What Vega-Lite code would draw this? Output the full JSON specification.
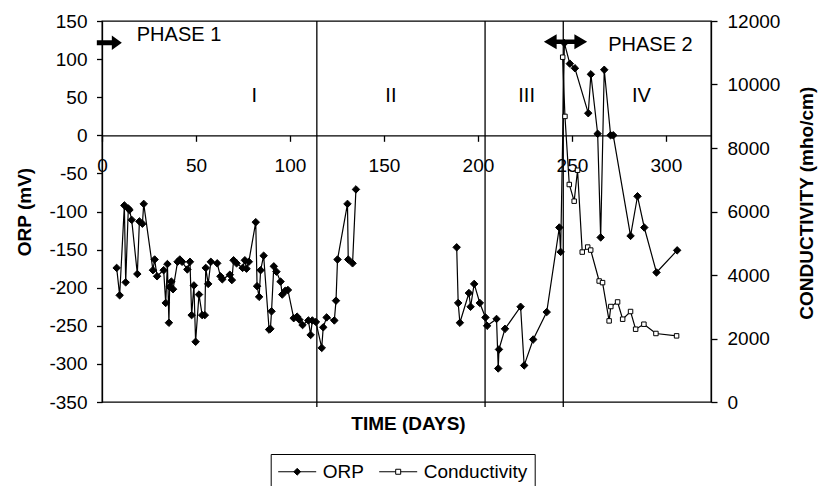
{
  "$schema": "https://vega.github.io/schema/vega-lite/v6.json",
  "width": 609,
  "height": 381,
  "autosize": {"type": "none"},
  "padding": {"left": 102, "top": 21, "right": 108, "bottom": 84},
  "background": "white",
  "config": {
    "font": "Liberation Sans",
    "view": {"stroke": "black", "strokeWidth": 1.3},
    "axis": {
      "labelFont": "Liberation Sans", "titleFont": "Liberation Sans",
      "labelColor": "black", "titleColor": "black", "tickColor": "black", "domainColor": "black",
      "grid": false, "labelFontSize": 19, "titleFontSize": 19, "titleFontWeight": "bold",
      "tickWidth": 1.3, "domainWidth": 1.3
    }
  },
  "datasets": {
    "orp": [
      {"series": "ORP", "seg": 1, "day": 7.8, "orp": -174},
      {"series": "ORP", "seg": 1, "day": 9.4, "orp": -210},
      {"series": "ORP", "seg": 1, "day": 11.9, "orp": -92},
      {"series": "ORP", "seg": 1, "day": 12.6, "orp": -193},
      {"series": "ORP", "seg": 1, "day": 14, "orp": -96},
      {"series": "ORP", "seg": 1, "day": 14.6, "orp": -98},
      {"series": "ORP", "seg": 1, "day": 15.8, "orp": -111},
      {"series": "ORP", "seg": 1, "day": 18.8, "orp": -182},
      {"series": "ORP", "seg": 1, "day": 19.9, "orp": -113},
      {"series": "ORP", "seg": 1, "day": 21.5, "orp": -116},
      {"series": "ORP", "seg": 1, "day": 22.2, "orp": -90},
      {"series": "ORP", "seg": 1, "day": 27.1, "orp": -177},
      {"series": "ORP", "seg": 1, "day": 28, "orp": -163},
      {"series": "ORP", "seg": 1, "day": 29.3, "orp": -185},
      {"series": "ORP", "seg": 1, "day": 32.8, "orp": -177},
      {"series": "ORP", "seg": 1, "day": 33.9, "orp": -220},
      {"series": "ORP", "seg": 1, "day": 34.8, "orp": -169},
      {"series": "ORP", "seg": 1, "day": 35.6, "orp": -246},
      {"series": "ORP", "seg": 1, "day": 36, "orp": -199},
      {"series": "ORP", "seg": 1, "day": 36.9, "orp": -192},
      {"series": "ORP", "seg": 1, "day": 37.8, "orp": -202},
      {"series": "ORP", "seg": 1, "day": 40.2, "orp": -166},
      {"series": "ORP", "seg": 1, "day": 41.4, "orp": -163},
      {"series": "ORP", "seg": 1, "day": 42.6, "orp": -166},
      {"series": "ORP", "seg": 1, "day": 45.4, "orp": -176},
      {"series": "ORP", "seg": 1, "day": 46.8, "orp": -166},
      {"series": "ORP", "seg": 1, "day": 47.7, "orp": -236},
      {"series": "ORP", "seg": 1, "day": 48.9, "orp": -197},
      {"series": "ORP", "seg": 1, "day": 49.8, "orp": -271},
      {"series": "ORP", "seg": 1, "day": 51.6, "orp": -209},
      {"series": "ORP", "seg": 1, "day": 53.3, "orp": -236},
      {"series": "ORP", "seg": 1, "day": 54.7, "orp": -236},
      {"series": "ORP", "seg": 1, "day": 55.2, "orp": -174},
      {"series": "ORP", "seg": 1, "day": 56.5, "orp": -195},
      {"series": "ORP", "seg": 1, "day": 57.9, "orp": -166},
      {"series": "ORP", "seg": 1, "day": 61.3, "orp": -168},
      {"series": "ORP", "seg": 1, "day": 63, "orp": -185},
      {"series": "ORP", "seg": 1, "day": 64, "orp": -189},
      {"series": "ORP", "seg": 1, "day": 68, "orp": -183},
      {"series": "ORP", "seg": 1, "day": 69.1, "orp": -190},
      {"series": "ORP", "seg": 1, "day": 70, "orp": -164},
      {"series": "ORP", "seg": 1, "day": 71.6, "orp": -168},
      {"series": "ORP", "seg": 1, "day": 74.8, "orp": -174},
      {"series": "ORP", "seg": 1, "day": 76, "orp": -164},
      {"series": "ORP", "seg": 1, "day": 76.9, "orp": -175},
      {"series": "ORP", "seg": 1, "day": 78.1, "orp": -166},
      {"series": "ORP", "seg": 1, "day": 81.8, "orp": -114},
      {"series": "ORP", "seg": 1, "day": 82.5, "orp": -198},
      {"series": "ORP", "seg": 1, "day": 83.6, "orp": -212},
      {"series": "ORP", "seg": 1, "day": 84.4, "orp": -177},
      {"series": "ORP", "seg": 1, "day": 86, "orp": -158},
      {"series": "ORP", "seg": 1, "day": 88.9, "orp": -255},
      {"series": "ORP", "seg": 1, "day": 89.6, "orp": -254},
      {"series": "ORP", "seg": 1, "day": 90.2, "orp": -231},
      {"series": "ORP", "seg": 1, "day": 91.4, "orp": -172},
      {"series": "ORP", "seg": 1, "day": 92.8, "orp": -179},
      {"series": "ORP", "seg": 1, "day": 95, "orp": -192},
      {"series": "ORP", "seg": 1, "day": 95.9, "orp": -209},
      {"series": "ORP", "seg": 1, "day": 97.5, "orp": -204},
      {"series": "ORP", "seg": 1, "day": 98.9, "orp": -203},
      {"series": "ORP", "seg": 1, "day": 102, "orp": -240},
      {"series": "ORP", "seg": 1, "day": 103.8, "orp": -238},
      {"series": "ORP", "seg": 1, "day": 105, "orp": -242},
      {"series": "ORP", "seg": 1, "day": 106.7, "orp": -249},
      {"series": "ORP", "seg": 1, "day": 109.8, "orp": -243},
      {"series": "ORP", "seg": 1, "day": 111, "orp": -262},
      {"series": "ORP", "seg": 1, "day": 111.9, "orp": -243},
      {"series": "ORP", "seg": 1, "day": 113.8, "orp": -245},
      {"series": "ORP", "seg": 1, "day": 116.9, "orp": -279},
      {"series": "ORP", "seg": 1, "day": 117.7, "orp": -252},
      {"series": "ORP", "seg": 1, "day": 119.5, "orp": -239},
      {"series": "ORP", "seg": 1, "day": 123.6, "orp": -243},
      {"series": "ORP", "seg": 1, "day": 124.5, "orp": -217},
      {"series": "ORP", "seg": 1, "day": 125.3, "orp": -163},
      {"series": "ORP", "seg": 1, "day": 130.6, "orp": -90},
      {"series": "ORP", "seg": 1, "day": 131, "orp": -163},
      {"series": "ORP", "seg": 1, "day": 133.3, "orp": -168},
      {"series": "ORP", "seg": 1, "day": 135.1, "orp": -71},
      {"series": "ORP", "seg": 2, "day": 188.7, "orp": -147},
      {"series": "ORP", "seg": 2, "day": 189.5, "orp": -220},
      {"series": "ORP", "seg": 2, "day": 190.4, "orp": -246},
      {"series": "ORP", "seg": 2, "day": 195.2, "orp": -207},
      {"series": "ORP", "seg": 2, "day": 196.1, "orp": -225},
      {"series": "ORP", "seg": 2, "day": 198, "orp": -195},
      {"series": "ORP", "seg": 2, "day": 201, "orp": -220},
      {"series": "ORP", "seg": 2, "day": 204, "orp": -239},
      {"series": "ORP", "seg": 2, "day": 204.9, "orp": -250},
      {"series": "ORP", "seg": 2, "day": 209.9, "orp": -241},
      {"series": "ORP", "seg": 2, "day": 210.8, "orp": -306},
      {"series": "ORP", "seg": 2, "day": 211.2, "orp": -281},
      {"series": "ORP", "seg": 2, "day": 214.4, "orp": -254},
      {"series": "ORP", "seg": 2, "day": 222.7, "orp": -225},
      {"series": "ORP", "seg": 2, "day": 224.6, "orp": -302},
      {"series": "ORP", "seg": 2, "day": 229.4, "orp": -268},
      {"series": "ORP", "seg": 2, "day": 236.6, "orp": -232},
      {"series": "ORP", "seg": 2, "day": 243.3, "orp": -121},
      {"series": "ORP", "seg": 2, "day": 244, "orp": -153},
      {"series": "ORP", "seg": 2, "day": 246, "orp": 121},
      {"series": "ORP", "seg": 2, "day": 248.9, "orp": 94},
      {"series": "ORP", "seg": 2, "day": 251.6, "orp": 88},
      {"series": "ORP", "seg": 2, "day": 258.7, "orp": 29},
      {"series": "ORP", "seg": 2, "day": 260.1, "orp": 80},
      {"series": "ORP", "seg": 2, "day": 263.7, "orp": 2},
      {"series": "ORP", "seg": 2, "day": 265.3, "orp": -134},
      {"series": "ORP", "seg": 2, "day": 267.2, "orp": 86},
      {"series": "ORP", "seg": 2, "day": 270.6, "orp": 0},
      {"series": "ORP", "seg": 2, "day": 272, "orp": 0},
      {"series": "ORP", "seg": 2, "day": 281.2, "orp": -132},
      {"series": "ORP", "seg": 2, "day": 284.9, "orp": -80},
      {"series": "ORP", "seg": 2, "day": 288.5, "orp": -121},
      {"series": "ORP", "seg": 2, "day": 295, "orp": -180},
      {"series": "ORP", "seg": 2, "day": 306, "orp": -151}
    ],
    "cond": [
      {"series": "Conductivity", "day": 245.1, "cond": 10860},
      {"series": "Conductivity", "day": 246.3, "cond": 8995},
      {"series": "Conductivity", "day": 248.6, "cond": 6850},
      {"series": "Conductivity", "day": 251.2, "cond": 6325},
      {"series": "Conductivity", "day": 253, "cond": 7300},
      {"series": "Conductivity", "day": 255.5, "cond": 4722},
      {"series": "Conductivity", "day": 258.4, "cond": 4880},
      {"series": "Conductivity", "day": 260, "cond": 4785},
      {"series": "Conductivity", "day": 264.5, "cond": 3811},
      {"series": "Conductivity", "day": 266.3, "cond": 3760},
      {"series": "Conductivity", "day": 269.8, "cond": 2555},
      {"series": "Conductivity", "day": 270.7, "cond": 3007},
      {"series": "Conductivity", "day": 274.3, "cond": 3151},
      {"series": "Conductivity", "day": 277, "cond": 2608},
      {"series": "Conductivity", "day": 281.2, "cond": 2850},
      {"series": "Conductivity", "day": 283.9, "cond": 2293},
      {"series": "Conductivity", "day": 288.3, "cond": 2450},
      {"series": "Conductivity", "day": 294.7, "cond": 2158},
      {"series": "Conductivity", "day": 305.7, "cond": 2083}
    ],
    "dividers": [
      {"day": 114.3, "lo": -356.5, "hi": 150},
      {"day": 203.8, "lo": -356.5, "hi": 150},
      {"day": 245.4, "lo": -356.5, "hi": 150}
    ],
    "phases": [
      {"day": 18.5, "orp": 132, "text": "PHASE 1"},
      {"day": 269.3, "orp": 119, "text": "PHASE 2"}
    ],
    "periods": [
      {"day": 81, "orp": 51, "text": "I"},
      {"day": 153.7, "orp": 51, "text": "II"},
      {"day": 225.9, "orp": 51, "text": "III"},
      {"day": 287, "orp": 51, "text": "IV"}
    ],
    "arrows": [
      {"kind": "start", "day": 3.9, "orp": 121.5},
      {"kind": "both", "day": 246.6, "orp": 122.8}
    ]
  },
  "layer": [
    {
      "layer": [
        {
          "data": {"name": "dividers"},
          "mark": {"type": "rule", "color": "black", "strokeWidth": 1.3},
          "encoding": {
            "x": {"field": "day", "type": "quantitative", "scale": {"domain": [0, 324], "nice": false, "zero": false},
              "axis": {
                "orient": "bottom", "offset": -266.7, "values": [0, 50, 100, 150, 200, 250, 300], "tickCount": 30,
                "title": "TIME (DAYS)", "titleX": 306, "titleY": 287.7, "titleAlign": "center", "titleBaseline": "middle", "titleAngle": 0,
                "tickSize": 6, "labelPadding": 15, "labelFlush": false, "labelOverlap": false,
                "labelExpr": "'' + datum.value"
              }
            },
            "y": {"field": "lo", "type": "quantitative", "scale": {"domain": [-350, 150], "nice": false, "zero": false},
              "axis": {
                "orient": "left", "values": [-350, -300, -250, -200, -150, -100, -50, 0, 50, 100, 150], "tickCount": 30,
                "title": "ORP (mV)", "titleX": -78, "titleY": 190.5, "titleAngle": 270, "titleAlign": "center", "titleBaseline": "middle",
                "tickSize": 5.5, "labelPadding": 9.5, "labelOverlap": false,
                "labelExpr": "'' + datum.value"
              }
            },
            "y2": {"field": "hi"}
          }
        },
        {
          "data": {"name": "orp"},
          "mark": {"type": "line", "color": "black", "strokeWidth": 1.2},
          "encoding": {
            "x": {"field": "day", "type": "quantitative"},
            "y": {"field": "orp", "type": "quantitative"},
            "detail": {"field": "seg"}
          }
        },
        {
          "data": {"name": "orp"},
          "mark": {"type": "point", "shape": "diamond", "stroke": "black", "strokeWidth": 1, "opacity": 1, "size": 56},
          "encoding": {
            "x": {"field": "day", "type": "quantitative"},
            "y": {"field": "orp", "type": "quantitative"},
            "fill": {"field": "series", "type": "nominal",
              "scale": {"domain": ["ORP", "Conductivity"], "range": ["black", "white"]},
              "legend": {
                "orient": "none", "legendX": 168.7, "legendY": 433, "direction": "horizontal", "title": null,
                "strokeColor": "black", "padding": 7, "symbolSize": 400, "labelFontSize": 19, "labelFont": "Liberation Sans",
                "labelColor": "black", "labelOffset": 24, "columnPadding": 12, "symbolStrokeWidth": 1, "symbolStrokeColor": "black", "symbolOpacity": 1,
                "encode": {"symbols": {"update": {
                  "shape": {"signal": "datum.value === 'ORP' ? 'M-1,0H2.8M0.9,-0.34L1.24,0L0.9,0.34L0.56,0Z' : 'M-1,0H0.65M1.15,0H2.8M0.65,-0.25H1.15V0.25H0.65Z'"},
                  "stroke": {"value": "black"}
                }}}
              }
            }
          }
        },
        {
          "data": {"name": "arrows"},
          "transform": [{"filter": "datum.kind === 'start'"}],
          "mark": {"type": "point", "shape": "M-1,-0.2H0.2V-0.58L1,0L0.2,0.58V0.2H-1Z", "filled": true, "color": "black", "opacity": 1, "size": 625, "strokeWidth": 0},
          "encoding": {
            "x": {"field": "day", "type": "quantitative"},
            "y": {"field": "orp", "type": "quantitative"}
          }
        },
        {
          "data": {"name": "arrows"},
          "transform": [{"filter": "datum.kind === 'both'"}],
          "mark": {"type": "point", "shape": "M-1,0L-0.41,-0.35V-0.105H0.41V-0.35L1,0L0.41,0.35V0.105H-0.41V0.35Z", "filled": true, "color": "black", "opacity": 1, "size": 1875, "strokeWidth": 0},
          "encoding": {
            "x": {"field": "day", "type": "quantitative"},
            "y": {"field": "orp", "type": "quantitative"}
          }
        },
        {
          "data": {"name": "phases"},
          "mark": {"type": "text", "align": "left", "baseline": "middle", "font": "Liberation Sans", "fontSize": 20, "color": "black"},
          "encoding": {
            "x": {"field": "day", "type": "quantitative"},
            "y": {"field": "orp", "type": "quantitative"},
            "text": {"field": "text"}
          }
        },
        {
          "data": {"name": "periods"},
          "mark": {"type": "text", "align": "center", "baseline": "middle", "font": "Liberation Sans", "fontSize": 20, "color": "black"},
          "encoding": {
            "x": {"field": "day", "type": "quantitative"},
            "y": {"field": "orp", "type": "quantitative"},
            "text": {"field": "text"}
          }
        }
      ]
    },
    {
      "data": {"name": "cond"},
      "layer": [
        {
          "mark": {"type": "line", "color": "black", "strokeWidth": 1.2},
          "encoding": {
            "x": {"field": "day", "type": "quantitative", "scale": {"domain": [0, 324], "nice": false, "zero": false}},
            "y": {"field": "cond", "type": "quantitative", "scale": {"domain": [0, 12000], "nice": false},
              "axis": {
                "orient": "right", "values": [0, 2000, 4000, 6000, 8000, 10000, 12000], "tickCount": 30,
                "title": "CONDUCTIVITY (mho/cm)", "titleX": 95.7, "titleY": 181.7, "titleAngle": 270, "titleAlign": "center", "titleBaseline": "middle",
                "tickSize": 6, "labelPadding": 10, "labelOverlap": false,
                "labelExpr": "'' + datum.value",
                "encode": {"ticks": {"update": {"x": {"value": -6}, "x2": {"value": 6}}}}
              }
            }
          }
        },
        {
          "mark": {"type": "point", "shape": "square", "stroke": "black", "strokeWidth": 1, "opacity": 1, "size": 20},
          "encoding": {
            "x": {"field": "day", "type": "quantitative"},
            "y": {"field": "cond", "type": "quantitative"},
            "fill": {"field": "series", "type": "nominal",
              "scale": {"domain": ["ORP", "Conductivity"], "range": ["black", "white"]}}
          }
        }
      ]
    }
  ],
  "resolve": {"scale": {"y": "independent"}, "axis": {"y": "independent"}}
}
